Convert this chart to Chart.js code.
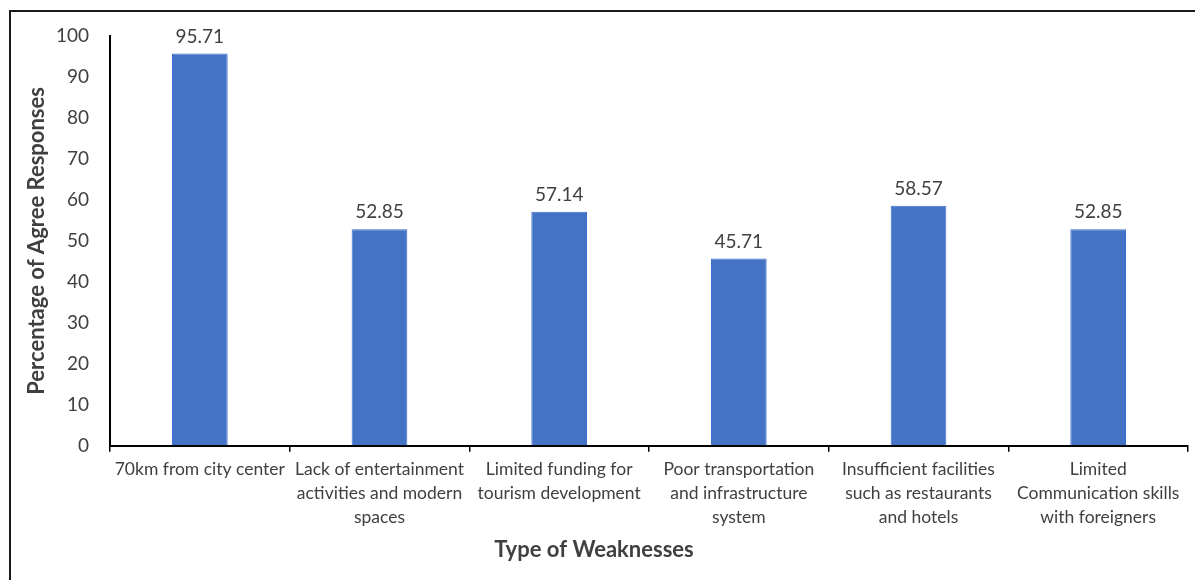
<!DOCTYPE html>
<html>
<head>
<meta charset="utf-8">
<script src="https://cdn.jsdelivr.net/npm/chart.js@4.4.0/dist/chart.umd.min.js"></script>
<style>
    html, body { margin: 0; padding: 0; background: #fff; }
    #wrap { position: relative; width: 1195px; height: 580px; }
    #frame {
        position: absolute; left: 9px; top: 10px; right: -5px; bottom: -5px;
        border-left: 2px solid #1a1a1a; border-top: 2px solid #1a1a1a;
        pointer-events: none;
    }
    canvas { position: absolute; left: 0; top: 0; }
</style>
</head>
<body>
<div id="wrap">
    <canvas id="weakChart" width="1195" height="580"></canvas>
    <div id="frame"></div>
</div>
<script>
// نقاط الضعف ونسب الموافقة
const weaknessLabels = [
    '70km from city center',
    ['Lack of entertainment', 'activities and modern', 'spaces'],
    ['Limited funding for', 'tourism development'],
    ['Poor transportation', 'and infrastructure', 'system'],
    ['Insufficient facilities', 'such as restaurants', 'and hotels'],
    ['Limited', 'Communication skills', 'with foreigners']
];
const agreePercent = [95.71, 52.85, 57.14, 45.71, 58.57, 52.85];
const yTicks = { min: 0, max: 100, step: 10 };

const FONT = 'Lato, "Open Sans", sans-serif';
const TEXT = '#404040';

// كتابة القيم فوق الأعمدة
const valueLabels = {
    id: 'valueLabels',
    afterDatasetsDraw(chart) {
        const ctx = chart.ctx;
        const meta = chart.getDatasetMeta(0);
        ctx.save();
        ctx.font = '19px ' + FONT;
        ctx.fillStyle = TEXT;
        ctx.textAlign = 'center';
        ctx.textBaseline = 'middle';
        meta.data.forEach((bar, i) => {
            ctx.fillText(agreePercent[i].toFixed(2), bar.x, bar.y - 17);
        });
        ctx.restore();
    }
};

const ctx = document.getElementById('weakChart').getContext('2d');
new Chart(ctx, {
    type: 'bar',
    data: {
        labels: weaknessLabels,
        datasets: [{
            data: agreePercent,
            backgroundColor: '#4472C4',
            borderColor: '#3b70d4',
            borderWidth: 1,
            categoryPercentage: 1,
            barPercentage: 0.31
        }]
    },
    options: {
        responsive: false,
        animation: false,
        layout: { padding: { top: 36, right: 7, left: 0, bottom: 0 } },
        plugins: {
            legend: { display: false },
            tooltip: { enabled: false },
            title: {
                display: true,
                position: 'bottom',
                text: 'Type of Weaknesses',
                color: TEXT,
                font: { family: FONT, size: 22, weight: 'bold', lineHeight: 1.2 },
                padding: { top: 0, bottom: 17 }
            }
        },
        scales: {
            x: {
                offset: true,
                grid: { display: true, drawOnChartArea: false, drawTicks: true, tickLength: 6, color: '#000', lineWidth: 1.5, offset: true },
                border: { display: true, color: '#000', width: 2 },
                ticks: {
                    color: TEXT,
                    font: { family: FONT, size: 17.5, lineHeight: 1.37 },
                    maxRotation: 0, autoSkip: false, padding: 6
                },
                afterFit: s => { s.height = 90.8; }
            },
            y: {
                min: yTicks.min,
                max: yTicks.max,
                grid: { display: true, drawOnChartArea: false, drawTicks: false },
                border: { display: true, color: '#000', width: 2 },
                ticks: {
                    stepSize: yTicks.step,
                    color: TEXT,
                    font: { family: FONT, size: 19 },
                    padding: 21
                },
                title: {
                    display: true,
                    text: 'Percentage of Agree Responses',
                    color: TEXT,
                    font: { family: FONT, size: 22, weight: 'bold', lineHeight: 1.2 },
                    padding: { top: 24, bottom: 0 }
                },
                afterFit: s => { s.width = 110; }
            }
        }
    },
    plugins: [valueLabels]
});
</script>
</body>
</html>
